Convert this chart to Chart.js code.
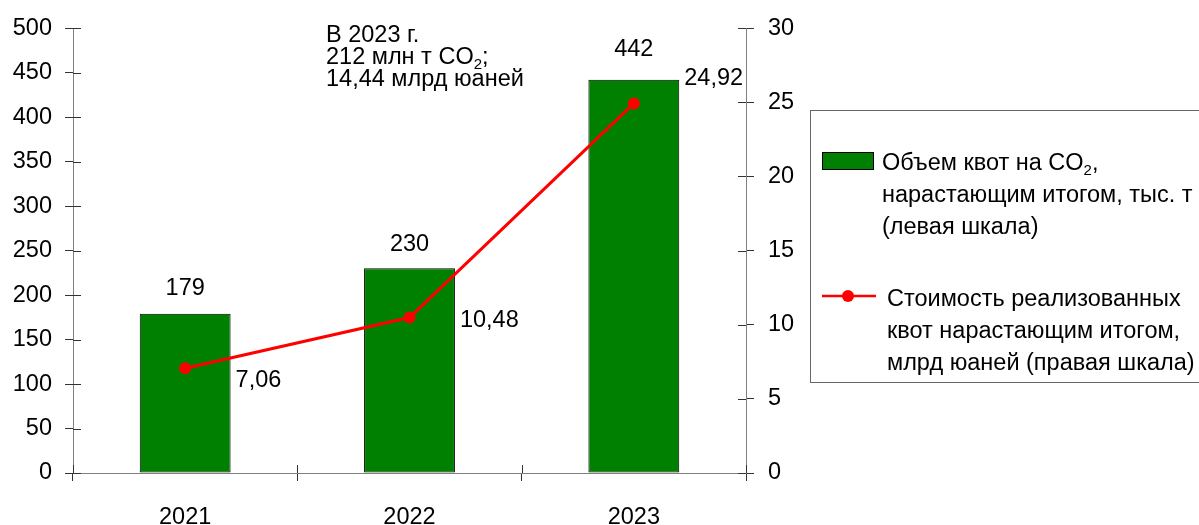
<!DOCTYPE html>
<html>
<head>
<meta charset="utf-8">
<script src="https://cdn.jsdelivr.net/npm/chart.js@4.4.0/dist/chart.umd.min.js"></script>
<style>
  html, body { margin: 0; padding: 0; background: #fff; overflow: hidden; }
  #wrap { position: relative; width: 1199px; height: 525px; }
</style>
</head>
<body>
<div id="wrap"><canvas id="chart" width="1199" height="525"></canvas></div>
<script>
// --- data ---
const years = ['2021', '2022', '2023'];
const quotaVolume = [179, 230, 442];          // тыс. т, левая шкала
const salesValue = [7.06, 10.48, 24.92];      // млрд юаней, правая шкала
const leftTicks = [0, 50, 100, 150, 200, 250, 300, 350, 400, 450, 500];
const rightTicks = [0, 5, 10, 15, 20, 25, 30];

const FONT = "'Liberation Sans', Arial, sans-serif";
const FS = 23.5;
const AXIS = '#808080';

const fmt = v => v.toFixed(2).replace('.', ',');

// draws text with subscript pieces: [text, isSub]
function drawRich(ctx, parts, x, y) {
    let cx = x;
    parts.forEach(([t, sub]) => {
        ctx.font = (sub ? 15 : FS) + 'px ' + FONT;
        ctx.fillText(t, cx, sub ? y + 7 : y);
        cx += ctx.measureText(t).width;
    });
}

const extras = {
    id: 'extras',
    beforeDatasetsDraw(chart) {
        // tick marks continue inside the plot area
        const ctx = chart.ctx;
        const { x, y, y1 } = chart.scales;
        ctx.save();
        ctx.strokeStyle = '#333';
        ctx.lineWidth = 1;
        ctx.beginPath();
        leftTicks.forEach(v => {
            const py = Math.round(y.getPixelForValue(v)) + 0.5;
            ctx.moveTo(y.right, py); ctx.lineTo(y.right + 8, py);
        });
        rightTicks.forEach(v => {
            const py = Math.round(y1.getPixelForValue(v)) + 0.5;
            ctx.moveTo(y1.left - 8, py); ctx.lineTo(y1.left, py);
        });
        for (let i = 0; i <= years.length; i++) {
            const px = Math.round(x.left + i * x.width / years.length) + 0.5;
            ctx.moveTo(px, x.top - 8); ctx.lineTo(px, x.top);
        }
        ctx.stroke();
        ctx.restore();
    },
    afterDatasetsDraw(chart) {
        const ctx = chart.ctx;
        ctx.save();
        ctx.fillStyle = '#000';
        ctx.textBaseline = 'middle';
        ctx.font = FS + 'px ' + FONT;

        // bar values
        const bars = chart.getDatasetMeta(0).data;
        const barLift = [25, 24, 30];
        ctx.textAlign = 'center';
        bars.forEach((b, i) => ctx.fillText(String(quotaVolume[i]), b.x, b.y - barLift[i]));

        // line values, to the right of each bar
        const pts = chart.getDatasetMeta(1).data;
        const dy = [12, 3, -25];
        ctx.textAlign = 'left';
        pts.forEach((p, i) => ctx.fillText(fmt(salesValue[i]), bars[i].x + bars[i].width / 2 + 5, p.y + dy[i]));

        // note in the upper part
        drawRich(ctx, [['В 2023 г.', 0]], 326, 36);
        drawRich(ctx, [['212 млн т CO', 0], ['2', 1], [';', 0]], 326, 58);
        drawRich(ctx, [['14,44 млрд юаней', 0]], 326, 80);

        // legend
        ctx.strokeStyle = '#666';
        ctx.lineWidth = 1;
        ctx.strokeRect(810.5, 110.5, 430, 272);

        ctx.fillStyle = '#008000';
        ctx.fillRect(822, 152, 51, 17);
        ctx.strokeStyle = '#000';
        ctx.strokeRect(822.5, 152.5, 51, 17);

        ctx.fillStyle = '#000';
        drawRich(ctx, [['Объем квот на CO', 0], ['2', 1], [',', 0]], 882, 164);
        drawRich(ctx, [['нарастающим итогом, тыс. т', 0]], 882, 196);
        drawRich(ctx, [['(левая шкала)', 0]], 882, 228);

        ctx.strokeStyle = '#ff0000';
        ctx.lineWidth = 2.5;
        ctx.beginPath();
        ctx.moveTo(822, 296); ctx.lineTo(876, 296);
        ctx.stroke();
        ctx.fillStyle = '#ff0000';
        ctx.beginPath();
        ctx.arc(848, 296, 6, 0, Math.PI * 2);
        ctx.fill();

        ctx.fillStyle = '#000';
        drawRich(ctx, [['Стоимость реализованных', 0]], 887, 300);
        drawRich(ctx, [['квот нарастающим итогом,', 0]], 887, 332);
        drawRich(ctx, [['млрд юаней (правая шкала)', 0]], 887, 364);
        ctx.restore();
    }
};

const tickFont = { family: FONT, size: FS };

new Chart(document.getElementById('chart').getContext('2d'), {
    type: 'bar',
    data: {
        labels: years,
        datasets: [{
            label: 'Объем квот на CO2, нарастающим итогом, тыс. т (левая шкала)',
            data: quotaVolume,
            yAxisID: 'y',
            backgroundColor: '#008000',
            borderColor: '#000',
            borderWidth: 1,
            borderSkipped: false,
            categoryPercentage: 1,
            barPercentage: 0.405,
            order: 2
        }, {
            type: 'line',
            label: 'Стоимость реализованных квот нарастающим итогом, млрд юаней (правая шкала)',
            data: salesValue,
            yAxisID: 'y1',
            borderColor: '#ff0000',
            backgroundColor: '#ff0000',
            borderWidth: 3,
            pointRadius: 6,
            pointBackgroundColor: '#ff0000',
            pointBorderWidth: 0,
            tension: 0,
            order: 1
        }]
    },
    options: {
        responsive: false,
        animation: false,
        layout: { padding: { top: 25, right: 393, left: 0, bottom: 0 } },
        plugins: { legend: { display: false }, tooltip: { enabled: false } },
        scales: {
            x: {
                grid: { offset: true, drawOnChartArea: false, tickLength: 8, color: '#333' },
                border: { color: AXIS },
                ticks: { font: tickFont, color: '#000', padding: 22 },
                afterFit: s => { s.height = 52; }
            },
            y: {
                position: 'left',
                min: 0, max: 500,
                afterBuildTicks: s => { s.ticks = leftTicks.map(v => ({ value: v })); },
                grid: { drawOnChartArea: false, tickLength: 8, color: '#333' },
                border: { color: AXIS },
                ticks: { font: tickFont, color: '#000', padding: 13 },
                afterFit: s => { s.width = 73; }
            },
            y1: {
                position: 'right',
                min: 0, max: 30,
                afterBuildTicks: s => { s.ticks = rightTicks.map(v => ({ value: v })); },
                grid: { drawOnChartArea: false, tickLength: 8, color: '#333' },
                border: { color: AXIS },
                ticks: { font: tickFont, color: '#000', padding: 14 },
                afterFit: s => { s.width = 60; }
            }
        }
    },
    plugins: [extras]
});
</script>
</body>
</html>
